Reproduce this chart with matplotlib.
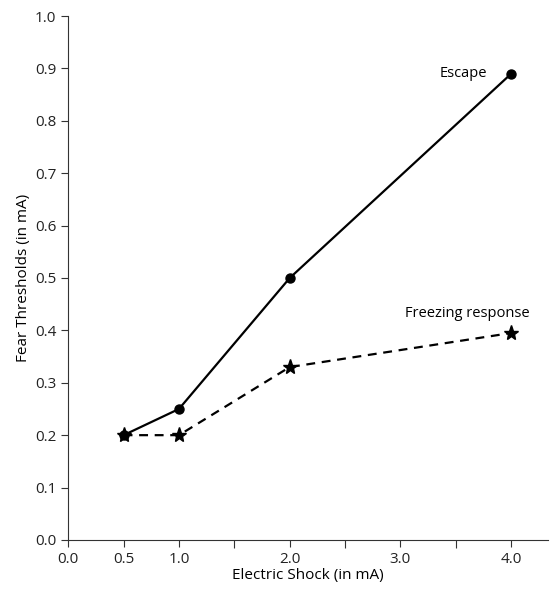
import matplotlib
matplotlib.use("Agg")
import matplotlib.pyplot as plt
from matplotlib.ticker import MultipleLocator, FixedLocator

plt.rcParams["font.family"] = ["Open Sans", "DejaVu Sans"]

shock = [0.5, 1.0, 2.0, 4.0]
escape = [0.20, 0.25, 0.50, 0.89]
freezing = [0.20, 0.20, 0.33, 0.395]

xtick_major = [0.0, 0.5, 1.0, 2.0, 3.0, 4.0]
xtick_minor = [1.5, 2.5, 3.5]

fig = plt.figure(figsize=(5.5, 5.94), dpi=100)
ax = fig.add_axes([0.124, 0.091, 0.872, 0.882])

ax.plot(shock, escape, color="black", lw=1.6, marker="o", ms=6.5)
ax.plot(shock, freezing, color="black", lw=1.6, ls=(0, (4, 3)), marker="*", ms=11)

ax.text(3.78, 0.89, "Escape", ha="right", va="center", fontsize=10.5)
ax.text(4.17, 0.432, "Freezing response", ha="right", va="center", fontsize=10.5)

ax.set_xlim(0, 4.33)
ax.set_ylim(0, 1.0)
ax.xaxis.set_major_locator(FixedLocator(xtick_major))
ax.xaxis.set_minor_locator(FixedLocator(xtick_minor))
ax.set_xticklabels([f"{v:.1f}" for v in xtick_major])
ax.yaxis.set_major_locator(MultipleLocator(0.1))
ax.tick_params(which="both", direction="out", length=5, width=0.8, colors="#333333",
               labelsize=11, labelcolor="#222222")
ax.tick_params(which="minor", length=6)

for s in ["top", "right"]:
    ax.spines[s].set_visible(False)
for s in ["left", "bottom"]:
    ax.spines[s].set_linewidth(0.8)
    ax.spines[s].set_color("#333333")

ax.set_xlabel("Electric Shock (in mA)", fontsize=11, labelpad=1)
ax.set_ylabel("Fear Thresholds (in mA)", fontsize=11, labelpad=3)

fig.savefig("out.png", dpi=100)
